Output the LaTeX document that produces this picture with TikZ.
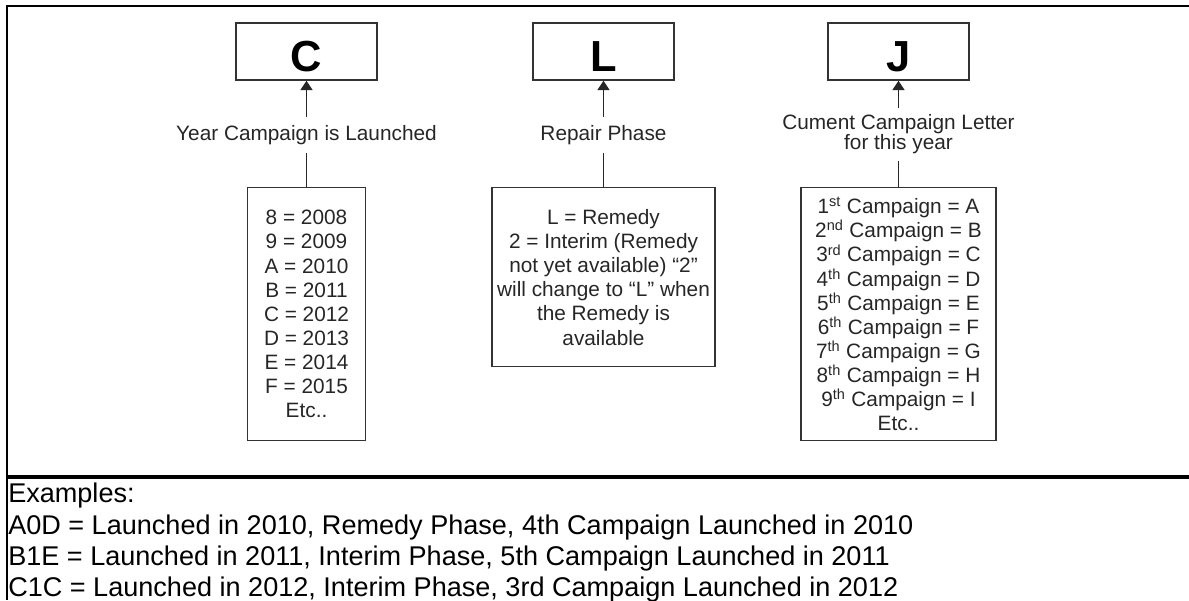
\documentclass[tikz,border=0pt]{standalone}
\usepackage{fontspec}
\setmainfont{Liberation Sans}
\usetikzlibrary{arrows.meta}
\begin{document}
\begin{tikzpicture}[x=0.75pt, y=-0.75pt,
  every node/.style={font=\fontsize{15.6pt}{18.1pt}\selectfont, text=black!85},
  letterbox/.style={draw=black!80, line width=1.1pt, minimum width=105.75pt, minimum height=42.75pt, inner sep=0pt, font=\fontsize{32.6pt}{36pt}\selectfont\bfseries, text=black, text height=30pt, text depth=0pt},
  keybox/.style={draw=black!80, line width=1.1pt, inner sep=0pt, align=center, anchor=north},
  keylbl/.style={inner xsep=2pt, inner ysep=6pt, align=center},
  link/.style={draw=black!85, line width=1.1pt},
  upto/.style={link, -{Triangle[width=9pt,length=7pt]}}]
  \useasboundingbox (0,0) rectangle (1189,600);
  \clip (0,0) rectangle (1189,600);
  % frame and divider
  \draw[line width=1.9pt] (7,5) -- (7,600);
  \draw[line width=1pt] (147,6) -- (1055,6);
  \draw[line width=2.2pt] (6,6) -- (147,6) (1055,6) -- (1189,6);
  \draw[line width=2.6pt] (6,477) -- (1189,477);
  % code letters
  \node[letterbox] (yearbox) at (306.5,51.5) {C};
  \node[letterbox] (phasebox) at (603.5,51.5) {L};
  \node[letterbox] (campbox) at (898.5,51.5) {J};
  % what each letter means
  \node[keylbl] (yearlbl) at (306.5,134.7) {Year Campaign is Launched};
  \node[keylbl] (phaselbl) at (603.5,134.7) {Repair Phase};
  \node[keylbl, inner ysep=5pt, font=\fontsize{15.6pt}{15pt}\selectfont] (camplbl) at (898.5,134.5) {Cument Campaign Letter\\for this year};
  \node[keybox, minimum width=88.5pt, minimum height=189.75pt] (yearkey) at (306.5,187) {8 = 2008\\9 = 2009\\A = 2010\\B = 2011\\C = 2012\\D = 2013\\E = 2014\\F = 2015\\Etc..};
  \node[keybox, minimum width=167.25pt, minimum height=134.25pt] (phasekey) at (603.5,187) {L = Remedy\\2 = Interim (Remedy\\not yet available) “2”\\will change to “L” when\\the Remedy is\\available};
  \node[keybox, minimum width=146.25pt, minimum height=189.75pt] (campkey) at (898.5,187) {1\textsuperscript{st} Campaign = A\\2\textsuperscript{nd} Campaign = B\\3\textsuperscript{rd} Campaign = C\\4\textsuperscript{th} Campaign = D\\5\textsuperscript{th} Campaign = E\\6\textsuperscript{th} Campaign = F\\7\textsuperscript{th} Campaign = G\\8\textsuperscript{th} Campaign = H\\9\textsuperscript{th} Campaign = I\\Etc..};
  \draw[upto] (yearlbl) -- (yearbox);
  \draw[link] (yearkey) -- (yearlbl);
  \draw[upto] (phaselbl) -- (phasebox);
  \draw[link] (phasekey) -- (phaselbl);
  \draw[upto] (camplbl) -- (campbox);
  \draw[link] (campkey) -- (camplbl);
  % examples
  \node[anchor=north west, align=left, inner sep=0pt, font=\fontsize{20.3pt}{23.5pt}\selectfont, text=black] (examples) at (8,483) {Examples:\\A0D = Launched in 2010, Remedy Phase, 4th Campaign Launched in 2010\\B1E = Launched in 2011, Interim Phase, 5th Campaign Launched in 2011\\C1C = Launched in 2012, Interim Phase, 3rd Campaign Launched in 2012};
\end{tikzpicture}
\end{document}
